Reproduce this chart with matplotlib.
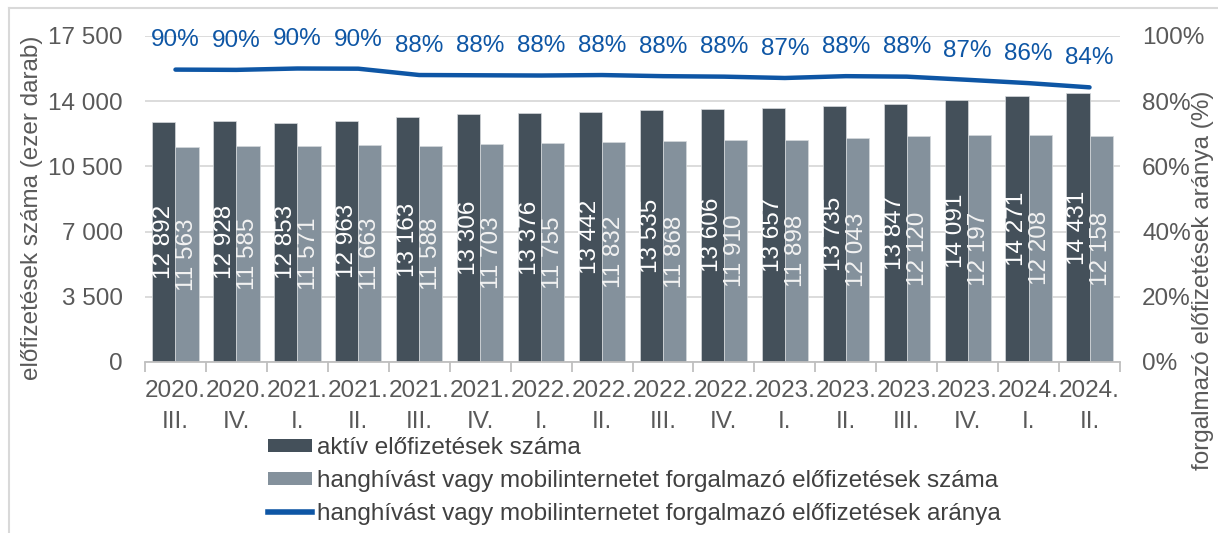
# -*- coding: utf-8 -*-
"""Mobil előfizetések: aktív vs. forgalmazó, negyedéves bontás"""
import numpy as np
import matplotlib
matplotlib.use('Agg')
import matplotlib.pyplot as plt
from matplotlib.patches import Patch
from matplotlib.lines import Line2D
from matplotlib.ticker import FixedLocator

plt.rcParams['font.family'] = ['Liberation Sans', 'DejaVu Sans']

# ---- adatok ----
quarters = ['2020.\nIII.', '2020.\nIV.', '2021.\nI.', '2021.\nII.', '2021.\nIII.', '2021.\nIV.',
            '2022.\nI.', '2022.\nII.', '2022.\nIII.', '2022.\nIV.', '2023.\nI.', '2023.\nII.',
            '2023.\nIII.', '2023.\nIV.', '2024.\nI.', '2024.\nII.']
aktiv = [12892, 12928, 12853, 12963, 13163, 13306, 13376, 13442,
         13535, 13606, 13657, 13735, 13847, 14091, 14271, 14431]
forgalmazo = [11563, 11585, 11571, 11663, 11588, 11703, 11755, 11832,
              11868, 11910, 11898, 12043, 12120, 12197, 12208, 12158]
arany = [0.8969, 0.8961, 0.9003, 0.8997, 0.8803, 0.8795, 0.8788, 0.8802,
         0.8768, 0.8753, 0.8712, 0.8768, 0.8753, 0.8656, 0.8554, 0.8425]

leg_labels = ['aktív előfizetések száma',
              'hanghívást vagy mobilinternetet forgalmazó előfizetések száma',
              'hanghívást vagy mobilinternetet forgalmazó előfizetések aránya']

DARK = '#44505A'
LIGHT = '#84919C'
BLUE = '#0E56A5'
TXT = '#595959'
GRID = '#D9D9D9'
FS = 17.5

W, H = 1218, 533
fig = plt.figure(figsize=(W / 100, H / 100), dpi=100)
ax = fig.add_axes([145 / W, 1 - 362 / H, (1120 - 145) / W, (362 - 36) / H])

x = np.arange(len(quarters))
w = 0.38
b1 = ax.bar(x - w / 2, aktiv, w, color=DARK, edgecolor='#D5D9DC', linewidth=0.5, zorder=2)
b2 = ax.bar(x + w / 2, forgalmazo, w, color=LIGHT, edgecolor='#D5D9DC', linewidth=0.5, zorder=2)

for xi, v in zip(x - w / 2, aktiv):
    ax.text(xi, v / 2, f'{v:,}'.replace(',', ' '), rotation=90, ha='center', va='center',
            color='white', fontsize=FS, zorder=3)
for xi, v in zip(x + w / 2, forgalmazo):
    ax.text(xi, v / 2, f'{v:,}'.replace(',', ' '), rotation=90, ha='center', va='center',
            color='#F2F2F2', fontsize=FS, zorder=3)

ax.set_xlim(-0.5, len(quarters) - 0.5)
ax.set_ylim(0, 17500)
yt = np.arange(0, 17501, 3500)
ax.set_yticks(yt)
ax.set_yticklabels([f'{v:,}'.replace(',', ' ') for v in yt])
ax.grid(True, axis='y', color=GRID, linewidth=1.3, zorder=0)
ax.set_axisbelow(True)
for s in ['left', 'right', 'top']:
    ax.spines[s].set_visible(False)
ax.spines['bottom'].set_color('#BFBFBF')
ax.spines['bottom'].set_linewidth(1.3)
ax.set_xticks(x)
ax.set_xticklabels(quarters, linespacing=1.5)
ax.xaxis.set_minor_locator(FixedLocator(np.arange(-0.5, len(quarters), 1)))
ax.tick_params(axis='x', which='major', length=0, pad=13, labelsize=FS, labelcolor=TXT)
ax.tick_params(axis='x', which='minor', length=7, width=1.3, color='#BFBFBF')
ax.tick_params(axis='y', length=0, pad=16, labelsize=FS, labelcolor=TXT)

ax2 = ax.twinx()
ax2.set_ylim(0, 1)
ax2.set_yticks(np.arange(0, 1.01, 0.2))
ax2.set_yticklabels([f'{int(round(v * 100))}%' for v in np.arange(0, 1.01, 0.2)])
ax2.tick_params(axis='y', length=0, pad=16, labelsize=FS, labelcolor=TXT)
for s in ax2.spines.values():
    s.set_visible(False)
ax2.plot(x, arany, color=BLUE, linewidth=3.2, solid_capstyle='round', zorder=4)
for xi, r in zip(x, arany):
    ax2.annotate(f'{r * 100:.0f}%', (xi, r), xytext=(0, 21), textcoords='offset points',
                 ha='center', va='center', color=BLUE, fontsize=FS)

fig.text(32 / W, 1 - 208 / H, 'előfizetések száma (ezer darab)', rotation=90,
         ha='center', va='center', fontsize=FS, color=TXT)
fig.text(1203 / W, 1 - 280 / H, 'forgalmazó előfizetések aránya (%)', rotation=90,
         ha='center', va='center', fontsize=FS, color=TXT)

handles = [Patch(facecolor=DARK), Patch(facecolor=LIGHT), Line2D([], [], color=BLUE, lw=4)]
fig.legend(handles, leg_labels, loc='upper left', bbox_to_anchor=(268 / W, 1 - 437 / H),
           frameon=False, fontsize=FS, labelcolor='#404040', handlelength=1.8,
           handleheight=0.45, handletextpad=0.2, labelspacing=0.45,
           borderpad=0, borderaxespad=0)

# keret
fig.add_artist(Line2D([9 / W, 9 / W], [0, 1 - 8 / H], transform=fig.transFigure, color=GRID, lw=1.5))
fig.add_artist(Line2D([9 / W, 1], [1 - 8 / H, 1 - 8 / H], transform=fig.transFigure, color=GRID, lw=1.5))

fig.savefig('out.png', dpi=100)
